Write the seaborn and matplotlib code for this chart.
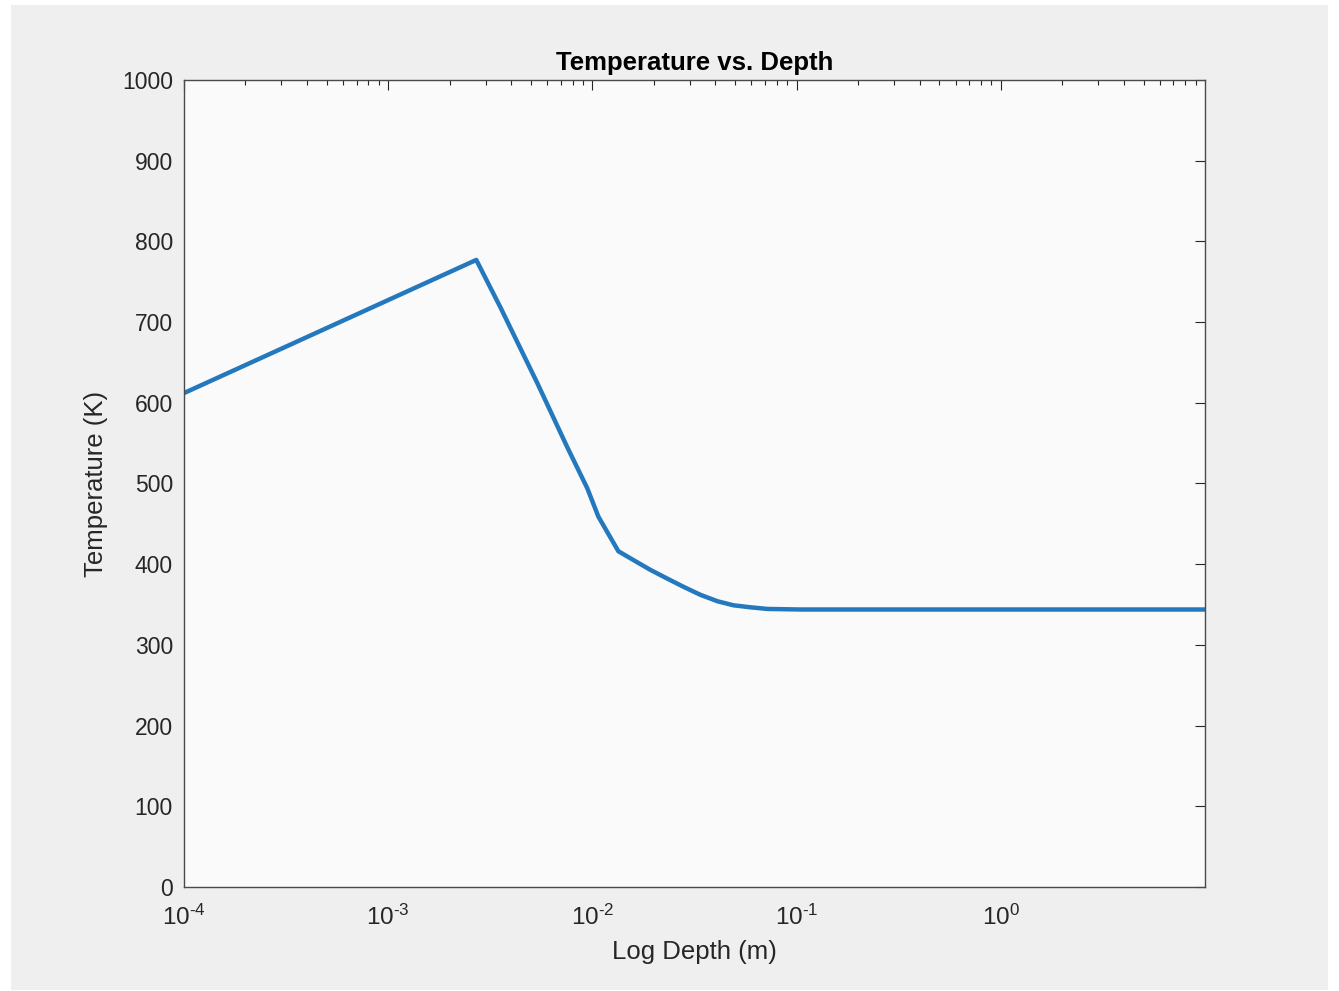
import numpy as np
import pandas as pd
import seaborn as sns
import matplotlib.pyplot as plt
from matplotlib.patches import Rectangle
from matplotlib.ticker import LogLocator, FuncFormatter, NullFormatter

# valeurs
depth = [1e-4, 2.70e-3, 3.54e-3, 5.37e-3, 7.53e-3, 9.44e-3, 1.069e-2, 1.34e-2,
         1.59e-2, 1.92e-2, 2.33e-2, 2.79e-2, 3.38e-2, 4.10e-2, 4.91e-2,
         5.96e-2, 7.21e-2, 0.105, 0.3, 1.0, 3.0, 9.99]
temperature = [612, 777, 718.5, 624.5, 545, 494, 459, 416,
               405, 393, 382, 372, 362, 354, 349,
               346.5, 344.5, 343.8, 343.8, 343.8, 343.8, 343.8]
y_ticks = list(range(0, 1001, 100))
x_ticks = [1e-4, 1e-3, 1e-2, 1e-1, 1e0]

data = pd.DataFrame({"depth": depth, "temperature": temperature})

sns.set_style("white")
plt.rcParams['font.family'] = ['Liberation Sans', 'DejaVu Sans']
plt.rcParams['mathtext.fontset'] = 'custom'
plt.rcParams['mathtext.rm'] = 'Liberation Sans'
plt.rcParams['mathtext.it'] = 'Liberation Sans:italic'
plt.rcParams['mathtext.bf'] = 'Liberation Sans:bold'

fig = plt.figure(figsize=(13.39, 9.91), dpi=100, facecolor="white")
fig.patches.append(Rectangle((11 / 1339, 1 / 991), 1317 / 1339, 985 / 991,
                             transform=fig.transFigure, facecolor="#efefef",
                             edgecolor="none", zorder=-10))
ax = fig.add_axes([0.1374, 0.1050, 0.7625, 0.8143])
ax.set_facecolor("#fafafa")

sns.lineplot(data=data, x="depth", y="temperature", ax=ax,
             color="#2478bd", linewidth=3.2)

ax.set_xscale("log")
ax.set_xlim(1e-4, 9.99)
ax.set_ylim(0, 1000)
ax.set_yticks(y_ticks)
ax.set_xticks(x_ticks)
ax.xaxis.set_major_formatter(FuncFormatter(
    lambda v, p: r"$\mathdefault{10^{\text{%d}}}$" % round(np.log10(v))))
ax.xaxis.set_minor_locator(LogLocator(base=10, subs=np.arange(2, 10)))
ax.xaxis.set_minor_formatter(NullFormatter())

for s in ax.spines.values():
    s.set_color("#4a4a4a")
    s.set_linewidth(1.0)
    s.set_visible(True)

ax.tick_params(which="both", direction="in", top=True, right=True,
               color="#262626", width=0.8, labelcolor="#262626")
ax.tick_params(which="major", length=7.5)
ax.tick_params(which="minor", length=3.8)
ax.tick_params(axis="y", pad=8, labelsize=16.5)
ax.tick_params(axis="x", pad=13, labelsize=17.5)

ax.set_title("Temperature vs. Depth", fontsize=18.5, fontweight="bold",
             color="black", pad=7)
ax.set_xlabel("Log Depth (m)", fontsize=18.5, color="#262626", labelpad=7)
ax.set_ylabel("Temperature (K)", fontsize=18.5, color="#262626", labelpad=10)
ax.grid(False)

fig.savefig("out.png", dpi=100, facecolor=fig.get_facecolor())
